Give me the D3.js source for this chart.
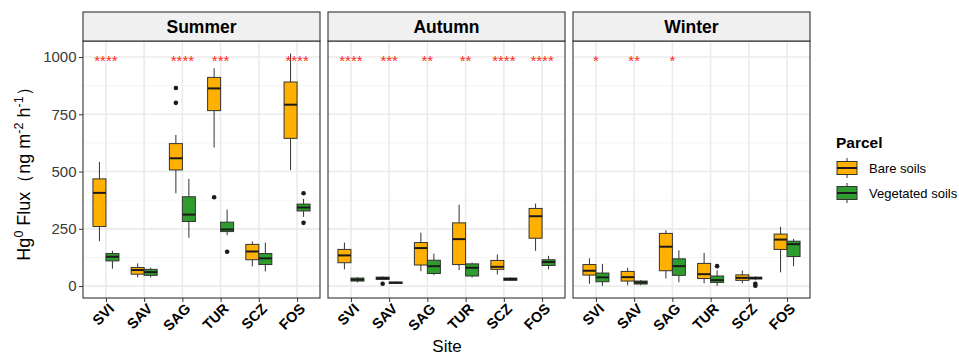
<!DOCTYPE html>
<html lang="en">
<head>
<meta charset="UTF-8">
<script src="https://d3js.org/d3.v7.min.js"></script>
<style>
  body { margin: 0; background: #fff; }
  svg { font-family: "Liberation Sans", Arial, sans-serif; }
</style>
</head>
<body>
<svg id="chart" width="959" height="358"></svg>
<script>
// categories
const seasons = ["Summer", "Autumn", "Winter"];
const sites = ["SVI", "SAV", "SAG", "TUR", "SCZ", "FOS"];
const parcels = ["Bare soils", "Vegetated soils"];
const yTicks = [0, 250, 500, 750, 1000];

// box stats per site: [lower whisker, q1, median, q3, upper whisker]
const summerBare = [[196, 260, 407, 468, 542], [38, 52, 70, 81, 99], [405, 507, 558, 622, 660],
  [605, 766, 863, 911, 951], [86, 115, 151, 182, 195], [506, 645, 792, 891, 1015]];
const summerVeg = [[76, 110, 128, 142, 154], [38, 47, 61, 73, 80], [211, 282, 312, 390, 468],
  [222, 238, 247, 279, 334], [64, 94, 121, 142, 190], [302, 328, 343, 358, 381]];
const autumnBare = [[73, 102, 134, 160, 190], [26, 29, 35, 39, 42], [65, 92, 166, 190, 233],
  [70, 94, 205, 276, 355], [51, 73, 84, 112, 138], [154, 209, 305, 339, 360]];
const autumnVeg = [[16, 22, 28, 35, 39], [9, 12, 15, 17, 20], [48, 55, 87, 113, 142],
  [38, 44, 80, 97, 102], [22, 25, 31, 35, 38], [73, 90, 105, 115, 132]];
const winterBare = [[10, 48, 67, 94, 121], [4, 22, 39, 64, 80], [33, 67, 172, 230, 244],
  [12, 33, 52, 99, 145], [12, 25, 36, 49, 68], [60, 160, 203, 227, 259]];
const winterVeg = [[1, 19, 38, 57, 97], [4, 9, 16, 22, 26], [17, 47, 87, 119, 156],
  [1, 16, 26, 44, 68], [26, 31, 35, 39, 42], [87, 129, 183, 196, 206]];

// outliers: [site, value]
const summerBareOut = [["SAG", 865], ["SAG", 800], ["TUR", 388]];
const summerVegOut = [["TUR", 150], ["FOS", 405], ["FOS", 276]];
const autumnBareOut = [["SAV", 10]];
const autumnVegOut = [];
const winterBareOut = [];
const winterVegOut = [["TUR", 87], ["SCZ", 10], ["SCZ", 2]];

// significance labels per site
const summerStars = ["****", "", "****", "***", "", "****"];
const autumnStars = ["****", "***", "**", "**", "****", "****"];
const winterStars = ["*", "**", "*", "", "", ""];

const boxes = {
  Summer: [summerBare, summerVeg], Autumn: [autumnBare, autumnVeg], Winter: [winterBare, winterVeg]
};
const outliers = {
  Summer: [summerBareOut, summerVegOut], Autumn: [autumnBareOut, autumnVegOut], Winter: [winterBareOut, winterVegOut]
};
const stars = { Summer: summerStars, Autumn: autumnStars, Winter: winterStars };

const colors = ["#FFB000", "#2E9C2E"];

const svg = d3.select("#chart");
const panelLeft = 83, panelW = 237, gap = 8;
const stripTop = 12, stripH = 29, plotTop = 41, plotBottom = 298;

const y = d3.scaleLinear().domain([-52, 1070]).range([plotBottom, plotTop]);

// y axis
const yAxis = svg.append("g").attr("transform", `translate(${panelLeft},0)`)
  .call(d3.axisLeft(y).tickValues(yTicks).tickFormat(d3.format("d")).tickSize(4).tickPadding(2.5));
yAxis.select(".domain").remove();
yAxis.selectAll("line").attr("stroke", "#333");
yAxis.selectAll("text").attr("fill", "#3a3a3a").style("font-size", "15px").style("font-family", "Liberation Sans, Arial");

// y title
const yt = svg.append("text")
  .attr("transform", `translate(30,${(plotTop + plotBottom) / 2}) rotate(-90)`)
  .attr("text-anchor", "middle").style("font-size", "18px").attr("fill", "#000");
yt.append("tspan").text("Hg");
yt.append("tspan").text("0").attr("dy", -7).style("font-size", "12.5px");
yt.append("tspan").text(" Flux（ng m").attr("dy", 7);
yt.append("tspan").text("-2").attr("dy", -7).style("font-size", "12.5px");
yt.append("tspan").text(" h").attr("dy", 7);
yt.append("tspan").text("-1").attr("dy", -7).style("font-size", "12.5px");
yt.append("tspan").text("）").attr("dy", 7);

seasons.forEach((season, si) => {
  const x0 = panelLeft + si * (panelW + gap);
  const x = d3.scalePoint().domain(sites).range([x0, x0 + panelW]).padding(0.6);
  const step = x.step();
  const bw = step * 0.34;
  const g = svg.append("g");

  // panel background and grid
  g.append("rect").attr("x", x0).attr("y", plotTop).attr("width", panelW).attr("height", plotBottom - plotTop)
    .attr("fill", "#fff");
  const minor = d3.range(-125, 1126, 250).filter(v => y(v) > plotTop && y(v) < plotBottom);
  g.selectAll(".minor").data(minor).join("line")
    .attr("x1", x0).attr("x2", x0 + panelW).attr("y1", d => y(d)).attr("y2", d => y(d))
    .attr("stroke", "#f2f2f2").attr("stroke-width", 0.8);
  g.selectAll(".major").data(yTicks).join("line")
    .attr("x1", x0).attr("x2", x0 + panelW).attr("y1", d => y(d)).attr("y2", d => y(d))
    .attr("stroke", "#ebebeb").attr("stroke-width", 1.6);
  g.selectAll(".vgrid").data(sites).join("line")
    .attr("x1", d => x(d)).attr("x2", d => x(d)).attr("y1", plotTop).attr("y2", plotBottom)
    .attr("stroke", "#ebebeb").attr("stroke-width", 1.6);

  // boxes
  parcels.forEach((p, pi) => {
    const off = (pi === 0 ? -1 : 1) * bw / 2;
    const data = boxes[season][pi].map((s, i) => ({ site: sites[i], s }));
    const bg = g.append("g");
    const b = bg.selectAll("g").data(data).join("g")
      .attr("transform", d => `translate(${x(d.site) + off},0)`);
    b.append("line").attr("y1", d => y(d.s[0])).attr("y2", d => y(d.s[1]))
      .attr("stroke", "#333").attr("stroke-width", 1);
    b.append("line").attr("y1", d => y(d.s[3])).attr("y2", d => y(d.s[4]))
      .attr("stroke", "#333").attr("stroke-width", 1);
    b.append("rect").attr("x", -bw / 2).attr("width", bw)
      .attr("y", d => y(d.s[3])).attr("height", d => Math.max(1, y(d.s[1]) - y(d.s[3])))
      .attr("fill", colors[pi]).attr("stroke", "#333").attr("stroke-width", 1);
    b.append("line").attr("x1", -bw / 2).attr("x2", bw / 2)
      .attr("y1", d => y(d.s[2])).attr("y2", d => y(d.s[2]))
      .attr("stroke", "#1a1a1a").attr("stroke-width", 2);

    bg.selectAll("circle").data(outliers[season][pi]).join("circle")
      .attr("cx", d => x(d[0]) + off).attr("cy", d => y(d[1])).attr("r", 2.3).attr("fill", "#1a1a1a");
  });

  // significance stars
  g.selectAll(".star").data(stars[season].map((t, i) => ({ t, site: sites[i] }))).join("text")
    .attr("x", d => x(d.site)).attr("y", y(1000) + 8.5)
    .attr("text-anchor", "middle").attr("fill", "#FF2A1A").style("font-size", "15px")
    .text(d => d.t);

  // panel border
  g.append("rect").attr("x", x0).attr("y", plotTop).attr("width", panelW).attr("height", plotBottom - plotTop)
    .attr("fill", "none").attr("stroke", "#333").attr("stroke-width", 1.1);

  // strip
  g.append("rect").attr("x", x0).attr("y", stripTop).attr("width", panelW).attr("height", stripH)
    .attr("fill", "#f0f0f0").attr("stroke", "#333").attr("stroke-width", 1.1);
  g.append("text").attr("x", x0 + panelW / 2).attr("y", stripTop + stripH / 2 + 6)
    .attr("text-anchor", "middle").style("font-size", "17.5px").style("font-weight", "bold")
    .text(season);

  // x axis
  const xa = svg.append("g").attr("transform", `translate(0,${plotBottom})`)
    .call(d3.axisBottom(x).tickSize(4).tickPadding(2));
  xa.select(".domain").remove();
  xa.selectAll("line").attr("stroke", "#333");
  xa.selectAll("text")
    .attr("fill", "#000").style("font-size", "14.5px").style("font-weight", "bold")
    .style("font-family", "Liberation Sans, Arial")
    .attr("text-anchor", "end").attr("dy", "0.72em").attr("dx", "0")
    .attr("transform", "translate(-3,0) rotate(-45)");
});

// x title
svg.append("text").attr("x", 447).attr("y", 352).attr("text-anchor", "middle")
  .style("font-size", "17px").text("Site");

// legend
const leg = svg.append("g").attr("transform", "translate(836,0)");
leg.append("text").attr("x", 0).attr("y", 148).style("font-size", "15.5px").style("font-weight", "bold").text("Parcel");
parcels.forEach((p, i) => {
  const cy = 168 + i * 25;
  const k = leg.append("g").attr("transform", `translate(11,${cy})`);
  k.append("line").attr("y1", -10).attr("y2", 10).attr("stroke", "#333");
  k.append("rect").attr("x", -10).attr("y", -6.5).attr("width", 20).attr("height", 13)
    .attr("fill", colors[i]).attr("stroke", "#333");
  k.append("line").attr("x1", -10).attr("x2", 10).attr("stroke", "#1a1a1a").attr("stroke-width", 2);
  leg.append("text").attr("x", 33).attr("y", cy + 4.5).style("font-size", "13px").text(p);
});
</script>
</body>
</html>
